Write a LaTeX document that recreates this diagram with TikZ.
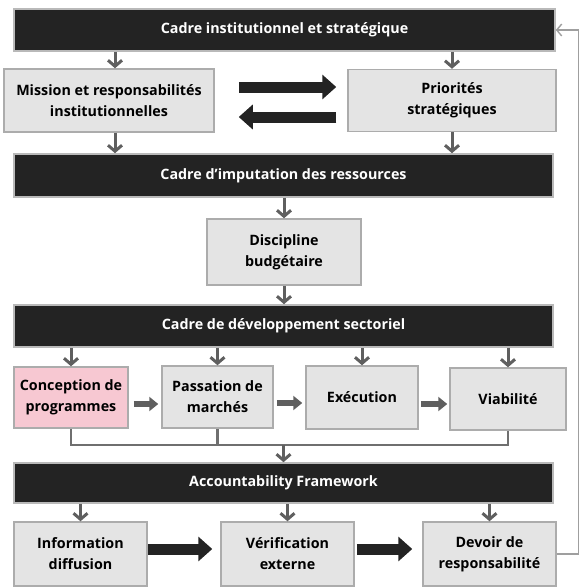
\documentclass[tikz,border=0pt]{standalone}
\usepackage{fontspec}
\setmainfont{Open Sans}
\usetikzlibrary{arrows.meta,positioning}

\definecolor{bardark}{RGB}{35,35,35}
\definecolor{boxfill}{RGB}{228,228,228}
\definecolor{pinkfill}{RGB}{247,200,210}
\definecolor{arrgray}{RGB}{95,95,95}

\begin{document}
\begin{tikzpicture}[x=1pt,y=-1pt,
  bar/.style={draw=gray!55,line width=1.6pt,fill=bardark,text=white,
    font=\fontsize{14.3}{17}\selectfont\bfseries,minimum width=539pt,
    minimum height=42pt,inner sep=0pt},
  box/.style={draw=gray!65,line width=1.5pt,fill=boxfill,align=center,
    font=\fontsize{14.3}{21}\selectfont\bfseries,inner sep=0pt},
  down/.style={draw=arrgray,line width=3pt,-{Straight Barb[length=6pt,width=14pt]}},
  bigarrow/.style={draw=bardark,line width=11pt,-{Triangle[length=14pt,width=24pt]}},
  midarrow/.style={draw=arrgray,line width=6pt,-{Triangle[length=9pt,width=14pt]}},
  merge/.style={draw=arrgray!90,line width=2.5pt},
  back/.style={draw=gray!75,line width=1.4pt}]
  \useasboundingbox (0,0) rectangle (580,587);

  % frameworks
  \node[bar,minimum width=541pt] (inst) at (284.5,30) {Cadre institutionnel et stratégique};
  \node[bar,minimum height=43pt] (imput) at (283.5,175.5) {Cadre d’imputation des ressources};
  \node[bar] (secto) at (283.5,326) {Cadre de développement sectoriel};
  \node[bar,minimum height=40pt] (account) at (283.5,483) {Accountability Framework};

  % boxes
  \node[box,minimum width=210pt,minimum height=63pt] (mission) at (109,100.5)
    {Mission et responsabilités\\institutionnelles};
  \node[box,minimum width=208pt,minimum height=62pt] (prio) at (452,100.5)
    {Priorités\\stratégiques};
  \node[box,minimum width=154pt,minimum height=66pt] (disc) at (284,252)
    {Discipline\\budgétaire};
  \node[box,fill=pinkfill,minimum width=114pt,minimum height=61pt] (conc) at (71,397.5)
    {Conception de\\programmes};
  \node[box,minimum width=111pt,minimum height=62pt] (pass) at (217.5,397)
    {Passation de\\marchés};
  \node[box,minimum width=112pt,minimum height=63pt] (exec) at (362,397.5) {Exécution};
  \node[box,minimum width=116pt,minimum height=62pt] (viab) at (508,399) {Viabilité};
  \node[box,minimum width=133pt,minimum height=64pt] (info) at (80.5,554)
    {Information\\diffusion};
  \node[box,minimum width=133pt,minimum height=64pt] (verif) at (287.5,554)
    {Vérification\\externe};
  \node[box,minimum width=133pt,minimum height=64pt] (devoir) at (489.5,554)
    {Devoir de\\responsabilité};

  % downward flow
  \draw[down] ([xshift=6pt]inst.south -| mission) -- ([xshift=6pt]mission.north);
  \draw[down] (inst.south -| prio) -- (prio.north);
  \draw[down] ([xshift=6pt]mission.south) -- ([xshift=6pt]imput.north -| mission);
  \draw[down] (prio.south) -- (imput.north -| prio);
  \draw[down] (imput.south -| disc) -- (disc.north);
  \draw[down] (disc.south) -- (secto.north -| disc);
  \foreach \b in {conc,pass,exec,viab}
    \draw[down] (secto.south -| \b) -- (\b.north);
  \foreach \b in {info,verif,devoir}
    \draw[down] (account.south -| \b) -- (\b.north);

  % two-way exchange
  \draw[bigarrow] ([xshift=24pt,yshift=13.5pt]mission.east)
    -- ([xshift=-11pt,yshift=13.5pt]mission.east -| prio.west);
  \draw[bigarrow] ([xshift=-11pt,yshift=-16.5pt]mission.east -| prio.west)
    -- ([xshift=24pt,yshift=-16.5pt]mission.east);

  % sector chain
  \draw[midarrow] ([xshift=5pt,yshift=-6.5pt]conc.east) -- ([xshift=-3pt,yshift=-6.5pt]conc.east -| pass.west);
  \draw[midarrow] ([xshift=3pt,yshift=-6pt]pass.east) -- ([xshift=-3pt,yshift=-6pt]pass.east -| exec.west);
  \draw[midarrow] ([xshift=2pt,yshift=-6.5pt]exec.east) -- ([xshift=-2pt,yshift=-6.5pt]exec.east -| viab.west);

  % merge into accountability
  \coordinate (m) at (283.5,445);
  \draw[merge] (conc.south) |- (m) -| (viab.south);
  \draw[merge] (pass.south) -- (pass.south |- m);
  \draw[down] (m) -- (account.north);

  % accountability chain
  \draw[bigarrow] ([yshift=5pt]info.east) -- ([xshift=-8pt,yshift=5pt]info.east -| verif.west);
  \draw[bigarrow] ([xshift=2pt,yshift=5pt]verif.east) -- ([xshift=-10pt,yshift=5pt]verif.east -| devoir.west);

  % feedback loop
  \draw[back] (devoir.east) -- ++(22,0) coordinate (fb) |- ([xshift=1pt]inst.east);
  \draw[back,-{Straight Barb[length=5pt,width=12pt]}] (fb |- inst.east) -- (inst.east);
\end{tikzpicture}
\end{document}
